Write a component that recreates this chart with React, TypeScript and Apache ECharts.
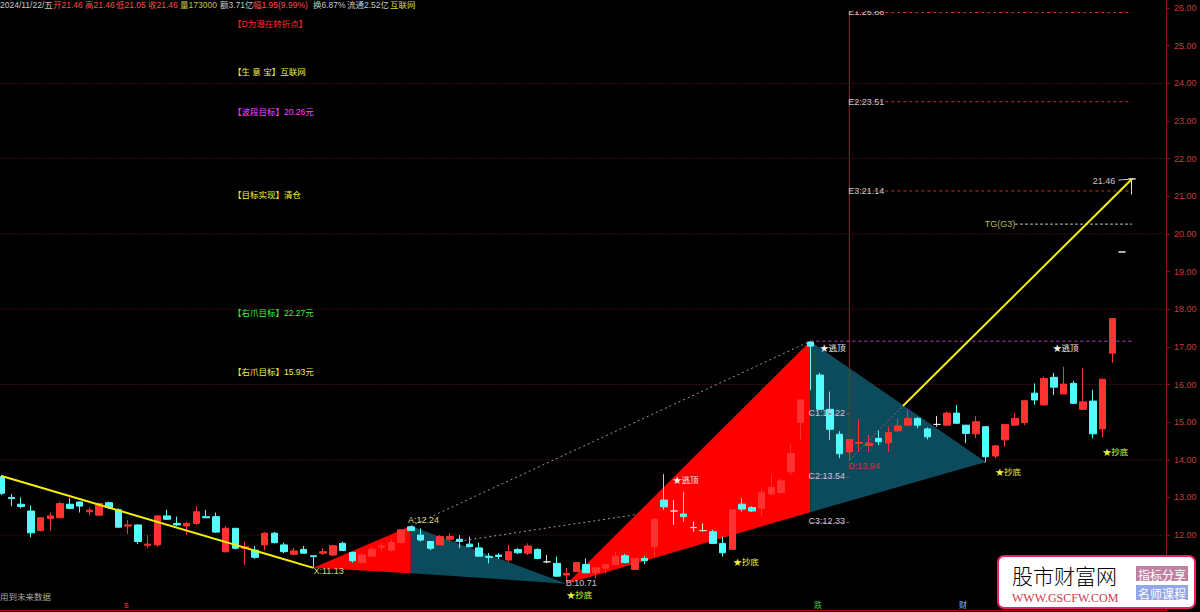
import React, { useEffect, useRef } from 'react';
import * as echarts from 'echarts';

// ---------- data ----------
const SLOT_COUNT = 120; // trading-day slots on the x axis (last ones empty)
// [open, close, low, high]
const CANDLES: number[][] = [
  [13.55, 13.11, 13.06, 13.60], [13.00, 12.97, 12.77, 13.09], [12.82, 12.76, 12.71, 13.00], [12.64, 12.06, 11.94, 12.79],
  [12.12, 12.46, 12.10, 12.48], [12.44, 12.51, 12.12, 12.60], [12.46, 12.84, 12.45, 12.89], [12.82, 12.71, 12.69, 12.98],
  [12.88, 12.77, 12.60, 12.89], [12.62, 12.66, 12.53, 12.73], [12.53, 12.84, 12.52, 12.87], [12.86, 12.73, 12.69, 12.89],
  [12.67, 12.21, 12.20, 12.71], [12.24, 12.27, 12.03, 12.40], [12.27, 11.83, 11.76, 12.28], [11.73, 11.76, 11.65, 12.00],
  [11.74, 12.51, 11.69, 12.53], [12.51, 12.42, 12.40, 12.67], [12.31, 12.27, 12.24, 12.49], [12.24, 12.31, 12.00, 12.36],
  [12.31, 12.62, 12.27, 12.76], [12.49, 12.46, 12.45, 12.67], [12.49, 12.08, 12.06, 12.60], [11.56, 12.18, 11.53, 12.24],
  [12.18, 11.65, 11.62, 12.18], [11.65, 11.69, 11.21, 11.83], [11.60, 11.41, 11.37, 11.71], [11.74, 12.05, 11.60, 12.08],
  [12.05, 11.80, 11.78, 12.08], [11.74, 11.56, 11.52, 11.80], [11.49, 11.58, 11.47, 11.66], [11.62, 11.52, 11.52, 11.71],
  [11.45, 11.43, 11.13, 11.45], [11.52, 11.56, 11.47, 11.65], [11.47, 11.72, 11.44, 11.74], [11.78, 11.59, 11.59, 11.83],
  [11.54, 11.32, 11.27, 11.56], [11.27, 11.47, 11.25, 11.52], [11.44, 11.62, 11.43, 11.69], [11.68, 11.71, 11.56, 11.80],
  [11.60, 11.80, 11.56, 11.89], [11.80, 12.14, 11.78, 12.16], [12.22, 12.12, 12.12, 12.24], [12.00, 11.87, 11.83, 12.18],
  [11.83, 11.65, 11.60, 11.83], [11.74, 11.96, 11.74, 12.00], [11.89, 11.96, 11.83, 12.05], [11.89, 11.83, 11.65, 12.00],
  [11.76, 11.69, 11.68, 11.96], [11.66, 11.44, 11.43, 11.80], [11.43, 11.41, 11.25, 11.52], [11.47, 11.43, 11.36, 11.52],
  [11.34, 11.56, 11.29, 11.74], [11.62, 11.53, 11.50, 11.65], [11.52, 11.71, 11.47, 11.78], [11.62, 11.38, 11.36, 11.65],
  [11.29, 11.29, 11.25, 11.47], [11.25, 10.91, 10.90, 11.43], [10.94, 10.98, 10.75, 11.13], [11.03, 11.27, 11.03, 11.29],
  [11.22, 11.00, 10.99, 11.38], [11.00, 11.13, 10.85, 11.13], [11.12, 11.22, 10.99, 11.25], [11.22, 11.44, 11.21, 11.56],
  [11.45, 11.27, 11.25, 11.50], [11.09, 11.38, 11.09, 11.38], [11.38, 11.32, 11.23, 11.44], [11.69, 12.42, 11.43, 12.45],
  [12.93, 12.75, 12.67, 13.62], [12.64, 12.64, 12.27, 12.93], [12.56, 12.49, 12.36, 13.15], [12.20, 12.20, 12.09, 12.36],
  [12.12, 12.12, 12.09, 12.31], [12.09, 11.78, 11.76, 12.14], [11.78, 11.53, 11.43, 11.96], [11.62, 12.67, 11.62, 12.67],
  [12.82, 12.69, 12.62, 12.98], [12.73, 12.64, 12.61, 12.77], [12.71, 13.14, 12.51, 13.24], [13.09, 13.27, 13.06, 13.60],
  [13.13, 13.44, 13.11, 13.51], [13.68, 14.17, 13.60, 14.42], [14.99, 15.59, 14.53, 15.59], [17.13, 17.02, 15.85, 17.15],
  [16.25, 15.34, 15.32, 16.31], [15.34, 14.81, 14.53, 15.81], [14.68, 14.16, 14.04, 14.76], [14.21, 14.54, 13.99, 14.54],
  [14.44, 14.46, 14.21, 15.08], [14.38, 14.44, 14.21, 14.66], [14.57, 14.48, 14.39, 14.79], [14.45, 14.72, 14.21, 14.88],
  [14.77, 14.90, 14.75, 15.10], [14.92, 15.10, 14.88, 15.32], [15.10, 14.92, 14.84, 15.13], [14.82, 14.61, 14.54, 14.86],
  [14.94, 14.94, 14.88, 15.16], [14.92, 15.24, 14.92, 15.28], [15.24, 14.97, 14.95, 15.46], [14.92, 14.70, 14.44, 14.92],
  [14.69, 15.01, 14.57, 15.16], [14.88, 14.08, 13.94, 14.88], [14.10, 14.37, 14.04, 14.39], [14.53, 14.94, 14.35, 14.94],
  [14.92, 15.10, 14.91, 15.24], [14.99, 15.57, 14.92, 15.59], [15.77, 15.59, 15.46, 16.03], [15.46, 16.16, 15.43, 16.21],
  [16.19, 15.93, 15.72, 16.31], [15.75, 16.01, 15.75, 16.47], [16.03, 15.50, 15.48, 16.10], [15.34, 15.54, 15.34, 16.43],
  [15.56, 14.69, 14.57, 15.86], [14.82, 16.14, 14.60, 16.14], [16.83, 17.75, 16.58, 17.75], [19.52, 19.52, 19.52, 19.52],
  [21.46, 21.46, 21.05, 21.46],
];
const DOJI_DAYS = [56, 69, 71, 72, 96, 115, 116];

const PRICE_MIN = 10;
const PRICE_MAX = 26.2125;
const PRICE_TICK = 1;
const LOWEST_LABEL = 12;
const GRID_LEVELS = [12, 14, 16, 18, 20, 22, 24];

// harmonic pattern points [slot, price]
const PT_X = [32, 11.13];
const PT_A = [42, 12.24];
const PT_A_BASE = [42, 10.99];
const PT_B = [58, 10.71];
const PT_C = [83, 17.15];
const PT_C_BASE = [83, 12.61];
const PT_D = [101, 13.94];

const FILL_XA = [PT_X, PT_A, PT_A_BASE];
const FILL_AB = [PT_A, PT_B, PT_A_BASE];
const FILL_BC = [PT_B, PT_C, PT_C_BASE];
const FILL_CD = [PT_C, PT_D, PT_C_BASE];

const TREND_DOWN = [[0, 13.57], PT_X];
const TREND_UP = [[92.5, 15.43], [116, 21.46]];
const TREND_UP_DASH = [[87, 13.99], [92.5, 15.43]];
const DASH_AC = [PT_A, PT_C];
const DASH_LOW = [[46.5, 11.82], PT_D];

const E_LEVELS = [25.88, 23.51, 21.14];
const TG_LEVEL = 20.26;
const C_LEVELS = [15.22, 13.54, 12.33];
const E_SPAN = [87, 116];
const TG_SPAN = [104, 116];
const C_TOP_SPAN = [83, 116];
const C_SPAN = [83, 87];
const HIGH_MARK = [[114.6, 21.43], [115.7, 21.45]];

const POINT_LABELS = [
  { text: 'X:11.13', at: [32, 11.05], color: '#d8d48c', align: 'left' },
  { text: 'A:12.24', at: [41.7, 12.40], color: '#d8d48c', align: 'left' },
  { text: 'B:10.71', at: [57.9, 10.73], color: '#c8c8c8', align: 'left' },
  { text: 'C1:15.22', at: [82.8, 15.24], color: '#c8c8c8', align: 'left' },
  { text: 'C2:13.54', at: [82.8, 13.57], color: '#c8c8c8', align: 'left' },
  { text: 'C3:12.33', at: [82.8, 12.38], color: '#c8c8c8', align: 'left' },
  { text: 'D:13.94', at: [86.9, 13.83], color: '#d83232', align: 'left' },
  { text: 'E1:25.88', at: [86.9, 25.90], color: '#c8c8c8', align: 'left' },
  { text: 'E2:23.51', at: [86.9, 23.51], color: '#c8c8c8', align: 'left' },
  { text: 'E3:21.14', at: [86.9, 21.14], color: '#c8c8c8', align: 'left' },
  { text: 'TG(G3)', at: [100.9, 20.26], color: '#b8b860', align: 'left' },
  { text: '21.46', at: [114.3, 21.40], color: '#c8c8c8', align: 'right' },
];
const SIGNALS = [
  { text: '★逃顶', at: [84.0, 17.0], color: '#f0f0f0' },
  { text: '★逃顶', at: [68.9, 13.48], color: '#f0f0f0' },
  { text: '★逃顶', at: [107.9, 17.0], color: '#f0f0f0' },
  { text: '★抄底', at: [75.1, 11.31], color: '#f0f040' },
  { text: '★抄底', at: [102.0, 13.70], color: '#f0f040' },
  { text: '★抄底', at: [113.0, 14.23], color: '#f0f040' },
  { text: '★抄底', at: [58.0, 10.43], color: '#f0f040' },
];

const HEADER = [
  { x: 0, text: '2024/11/22/五', color: '#c8c8c8' },
  { x: 53, text: '开21.46', color: '#ff4a4a' },
  { x: 85, text: '高21.46', color: '#ff4a4a' },
  { x: 116, text: '低21.05', color: '#ff4a4a' },
  { x: 148, text: '收21.46', color: '#ff4a4a' },
  { x: 180, text: '量173000', color: '#c8c040' },
  { x: 220, text: '额3.71亿', color: '#c8c8c8' },
  { x: 253, text: '幅1.95(9.99%)', color: '#ff4a4a' },
  { x: 313, text: '换6.87%', color: '#c8c8c8' },
  { x: 347, text: '流通2.52亿', color: '#c8c8c8' },
  { x: 390, text: '互联网', color: '#d8d840' },
];
const NOTES = [
  { y: 24, text: '【D为潜在转折点】', color: '#ff2a2a' },
  { y: 72, text: '【生 意 宝】互联网', color: '#f0f040' },
  { y: 112, text: '【波段目标】20.26元', color: '#ff40ff' },
  { y: 195, text: '【目标实现】清仓', color: '#f0f040' },
  { y: 313, text: '【右爪目标】22.27元', color: '#40f040' },
  { y: 372, text: '【右爪目标】15.93元', color: '#f0f040' },
];

// ---------- styling ----------
const CJK = '"Noto Sans CJK SC", "Noto Sans", sans-serif';
const LAT = '"Liberation Sans", "Noto Sans CJK SC", Arial, sans-serif';
const UP = '#ff3232';
const DOWN = '#54fcfc';
const DOJI = '#e8e8e8';

function txt(x: number, y: number, text: string, fill: string, size = 9, family = LAT, align = 'left', z = 50) {
  return {
    type: 'text', x, y, z, silent: true,
    style: { text, fill, font: `${size}px ${family}`, align, verticalAlign: 'middle', textAlign: align, textVerticalAlign: 'middle' },
  };
}

function segSeries(data: number[][], color: string, type: any, width = 1, z = 5) {
  return {
    type: 'line', xAxisIndex: 1, yAxisIndex: 0, data, symbol: 'none', silent: true, z,
    lineStyle: { color, type, width }, animation: false,
  };
}

function hLines(levels: number[], span: number[], color: string, type: any, z = 5) {
  return levels.map((v) => segSeries([[span[0], v], [span[1], v]], color, type, 1, z));
}

export default function App() {
  const ref = useRef<HTMLDivElement>(null);
  useEffect(() => {
    if (!ref.current) return;
    const chart = echarts.init(ref.current, null, { renderer: 'svg' });
    const fills = [
      { pts: FILL_XA, color: '#ff0000' },
      { pts: FILL_AB, color: '#0c4b5c' },
      { pts: FILL_BC, color: '#ff0000' },
      { pts: FILL_CD, color: '#0c4b5c' },
    ];
    const candleData = CANDLES.map((c, i) =>
      DOJI_DAYS.includes(i)
        ? { value: c, itemStyle: { color: DOJI, color0: DOJI, borderColor: DOJI, borderColor0: DOJI } }
        : c
    );
    const option: any = {
      animation: false,
      backgroundColor: '#000',
      grid: { left: -3.3, right: 34, top: 0, bottom: 1.6, outerBoundsMode: 'none', containLabel: false },
      xAxis: [
        {
          type: 'category',
          data: Array.from({ length: SLOT_COUNT }, (_, i) => String(i)),
          boundaryGap: true,
          axisLine: { show: true, onZero: false, lineStyle: { color: '#c00000', width: 1 } },
          axisTick: { show: false },
          axisLabel: { show: false },
          splitLine: { show: false },
        },
        {
          type: 'value', show: false, min: -0.5, max: SLOT_COUNT - 0.5,
          axisLine: { show: false, onZero: false }, splitLine: { show: false },
        },
      ],
      yAxis: [
        {
          type: 'value',
          position: 'right',
          min: PRICE_MIN,
          max: PRICE_MAX,
          interval: PRICE_TICK,
          axisLine: { show: true, onZero: false, lineStyle: { color: '#8c1414' } },
          axisTick: { show: true, length: 4, lineStyle: { color: '#8c1414' } },
          axisLabel: {
            color: '#c83c3c', fontSize: 9, fontFamily: '"Liberation Sans", Arial, sans-serif', margin: 8,
            showMaxLabel: false, showMinLabel: false,
            formatter: (v: number) =>
              Math.abs(v - Math.round(v)) < 1e-6 && v >= LOWEST_LABEL ? v.toFixed(2) : '',
          },
          splitLine: { show: false },
        },
      ],
      series: [
        {
          type: 'custom', xAxisIndex: 1, yAxisIndex: 0, z: 1, silent: true,
          data: GRID_LEVELS.map((v) => [0, v]),
          renderItem: (params: any, api: any) => {
            const v = GRID_LEVELS[params.dataIndex];
            const a = api.coord([-0.5, v]);
            const b = api.coord([SLOT_COUNT - 0.5, v]);
            return {
              type: 'line', shape: { x1: a[0], y1: a[1], x2: b[0], y2: b[1] },
              style: { stroke: '#781818', lineWidth: 1, lineDash: [1, 2] },
            };
          },
        },
        segSeries(DASH_AC, '#9a9a9a', [2, 3], 1, 2),
        segSeries(DASH_LOW, '#9a9a9a', [2, 3], 1, 2),
        {
          type: 'custom', xAxisIndex: 1, yAxisIndex: 0, z: 3, silent: true,
          data: fills.map((f) => f.pts[0]),
          renderItem: (params: any, api: any) => {
            const f = fills[params.dataIndex];
            return {
              type: 'polygon',
              shape: { points: f.pts.map((p) => api.coord(p)) },
              style: { fill: f.color },
            };
          },
        },
        segSeries([[87, E_LEVELS[0]], [87, PT_D[1]]], '#8a2c2c', 'solid', 1, 3),
        {
          type: 'candlestick', xAxisIndex: 0, yAxisIndex: 0, z: 4,
          data: candleData, barWidth: 7,
          itemStyle: { color: UP, color0: DOWN, borderColor: UP, borderColor0: DOWN, borderWidth: 1 },
        },
        segSeries(TREND_DOWN, '#f5f000', 'solid', 2, 6),
        segSeries(TREND_UP, '#f5f000', 'solid', 2, 6),
        segSeries(TREND_UP_DASH, '#8a7060', [2, 2], 1, 6),
        ...hLines(E_LEVELS, E_SPAN, '#c83232', [3, 3]),
        ...hLines([TG_LEVEL], TG_SPAN, '#c0c0c0', [3, 2]),
        ...hLines([PT_C[1]], C_TOP_SPAN, '#c040c0', [3, 3]),
        ...hLines(C_LEVELS, C_SPAN, '#a040a0', [3, 3]),
        segSeries(HIGH_MARK, '#c8c8c8', 'solid', 1, 6),
        {
          type: 'custom', xAxisIndex: 1, yAxisIndex: 0, z: 8, silent: true, clip: false,
          data: POINT_LABELS.map((l) => l.at),
          renderItem: (params: any, api: any) => {
            const l = POINT_LABELS[params.dataIndex];
            const p = api.coord(l.at);
            return {
              type: 'text', x: p[0], y: p[1],
              style: { text: l.text, fill: l.color, font: `9px ${LAT}`, align: l.align, verticalAlign: 'middle', textAlign: l.align, textVerticalAlign: 'middle' },
            };
          },
        },
        {
          type: 'custom', xAxisIndex: 1, yAxisIndex: 0, z: 8, silent: true, clip: false,
          data: SIGNALS.map((l) => l.at),
          renderItem: (params: any, api: any) => {
            const l = SIGNALS[params.dataIndex];
            const p = api.coord(l.at);
            return {
              type: 'text', x: p[0], y: p[1],
              style: { text: l.text, fill: l.color, font: `8.5px ${CJK}`, align: 'left', verticalAlign: 'middle', textAlign: 'left', textVerticalAlign: 'middle' },
            };
          },
        },
      ],
      graphic: [
        { type: 'rect', shape: { x: 846, y: 0, width: 44, height: 11 }, style: { fill: '#000' }, z: 40, silent: true },
        ...HEADER.map((h) => txt(h.x, 5, h.text, h.color, 8.5)),
        ...NOTES.map((n) => txt(233, n.y, n.text, n.color, 8.5)),
        txt(0, 597, '用到未来数据', '#a8a8a8', 8.5),
        txt(124, 605, '$', '#e03030', 8),
        txt(814, 605, '跌', '#40c040', 8),
        txt(959, 605, '财', '#80c0ff', 8),
        {
          type: 'rect', z: 60, silent: true,
          shape: { x: 998, y: 556, width: 197, height: 52, r: 6 },
          style: { fill: '#ffffff', stroke: '#e8206a', lineWidth: 2 },
        },
        {
          type: 'text', z: 61, silent: true, x: 1012, y: 575,
          style: {
            text: '股市财富网', font: `300 21px ${CJK}`, align: 'left', verticalAlign: 'middle', textAlign: 'left', textVerticalAlign: 'middle',
            fill: new echarts.graphic.LinearGradient(0, 0, 1, 0, [
              { offset: 0, color: '#7a5cc0' },
              { offset: 1, color: '#d0407a' },
            ]),
          },
        },
        txt(1012, 598, 'WWW.GSCFW.COM', '#d03a4a', 12, '"Liberation Serif", serif', 'left', 61),
        { type: 'rect', z: 61, silent: true, shape: { x: 1136, y: 566, width: 52, height: 15 }, style: { fill: '#c080a0' } },
        { type: 'rect', z: 61, silent: true, shape: { x: 1136, y: 585, width: 52, height: 15 }, style: { fill: '#92a6e8' } },
        txt(1162, 574, '指标分享', '#ffffff', 12, CJK, 'center', 62),
        txt(1162, 593, '名师课程', '#ffffff', 12, CJK, 'center', 62),
      ],
    };
    chart.setOption(option);
    return () => chart.dispose();
  }, []);
  return (
    <div
      ref={ref}
      style={{ position: 'fixed', left: 0, top: 0, width: 1200, height: 612, background: '#000' }}
    />
  );
}
